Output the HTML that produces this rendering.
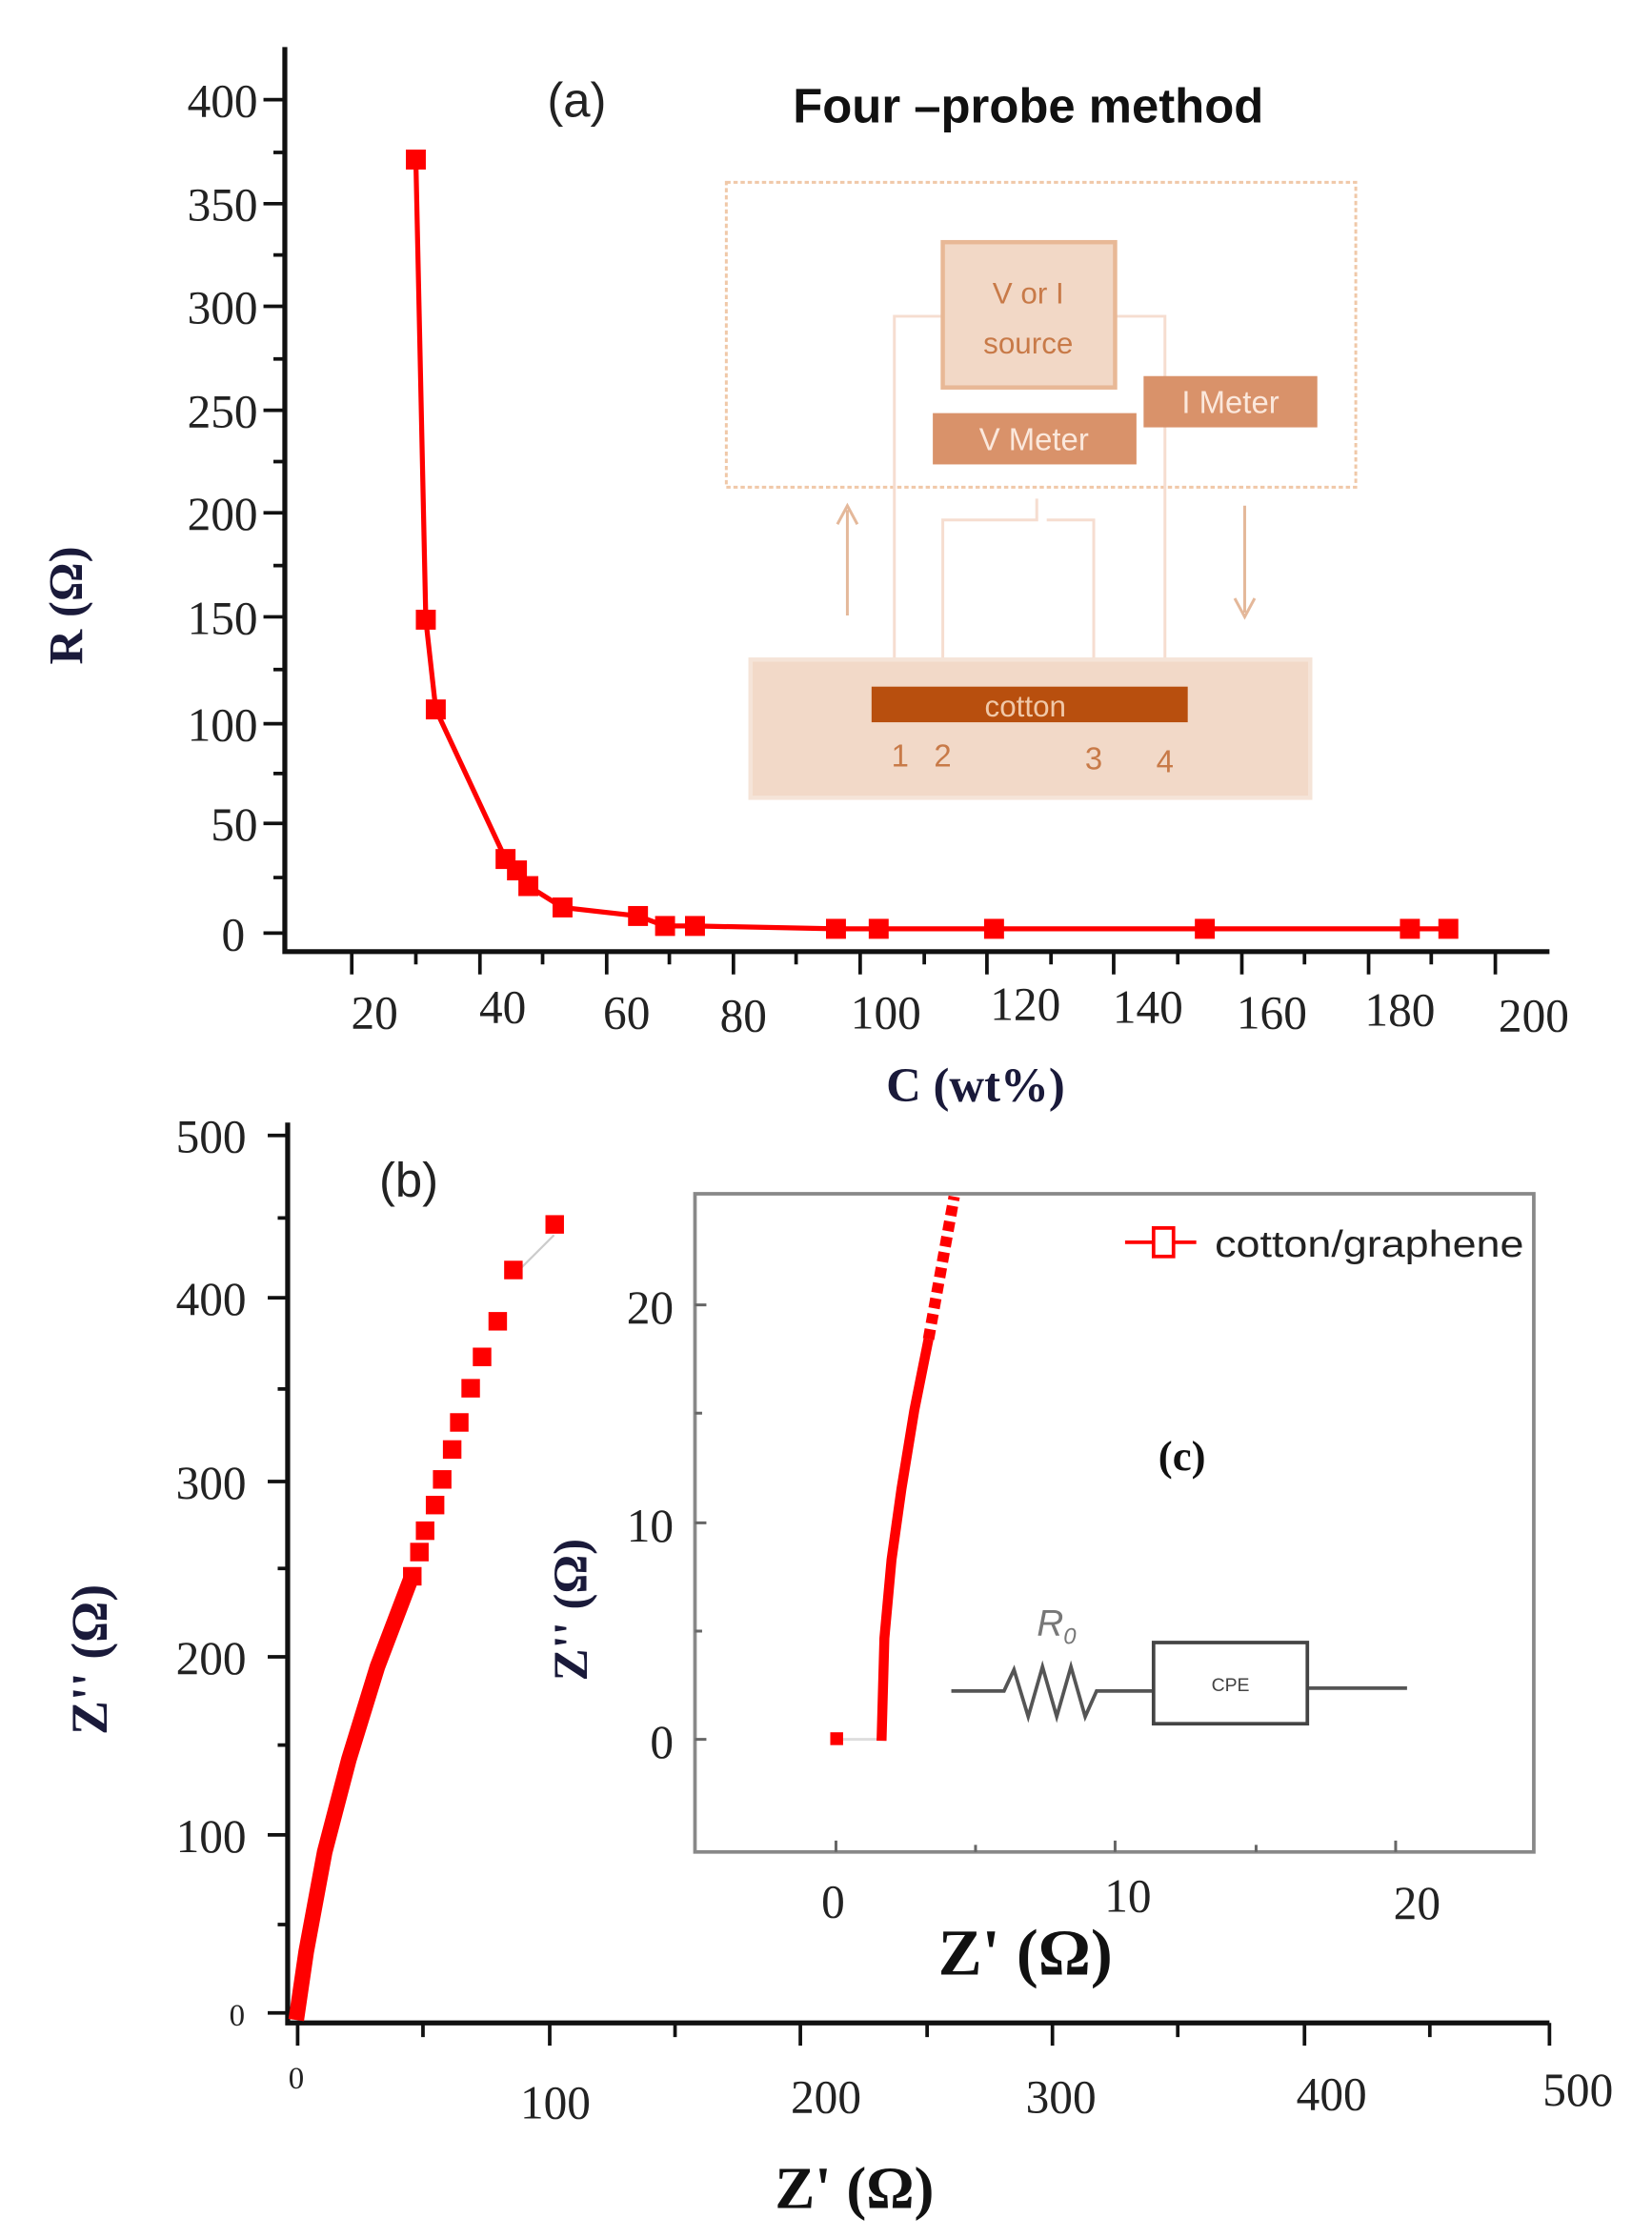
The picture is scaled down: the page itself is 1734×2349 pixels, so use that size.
<!DOCTYPE html>
<html><head><meta charset="utf-8"><style>html,body{margin:0;padding:0;background:#fff}svg{display:block}</style></head>
<body>
<svg width="1734" height="2349" viewBox="0 0 1160 1571" preserveAspectRatio="none" xmlns="http://www.w3.org/2000/svg" font-family="Liberation Sans, sans-serif">
<rect width="1160" height="1571" fill="#fff"/>
<g stroke="#111" stroke-width="3.5" fill="none">
<path d="M200,33 V668 H1088"/>
</g>
<g stroke="#111" stroke-width="2.5">
<path d="M185,70H200M185,143H200M185,215H200M185,288H200M185,360H200M185,433H200M185,508H200M185,578H200M185,655H200"/>
<path d="M192,107H200M192,179H200M192,252H200M192,324H200M192,397H200M192,470H200M192,543H200M192,616H200"/>
<path d="M247,668V684M337,668V684M426,668V684M515,668V684M604,668V684M693,668V684M782,668V684M872,668V684M961,668V684M1050,668V684"/>
<path d="M292,668V677M381,668V677M470,668V677M559,668V677M649,668V677M738,668V677M827,668V677M916,668V677M1005,668V677"/>
</g>
<g font-family="Liberation Serif, serif" font-size="33" fill="#222" text-anchor="end">
<text x="181" y="82">400</text><text x="181" y="155">350</text><text x="181" y="227">300</text><text x="181" y="300">250</text><text x="181" y="372">200</text><text x="181" y="445">150</text><text x="181" y="520">100</text><text x="181" y="590">50</text><text x="172" y="667">0</text>
</g>
<g font-family="Liberation Serif, serif" font-size="33" fill="#222" text-anchor="middle">
<text x="263" y="722">20</text><text x="353" y="718">40</text><text x="440" y="722">60</text><text x="522" y="724">80</text><text x="622" y="722">100</text><text x="720" y="716">120</text><text x="806" y="718">140</text><text x="893" y="722">160</text><text x="983" y="720">180</text><text x="1077" y="724">200</text>
</g>
<text x="685" y="773" font-family="Liberation Serif, serif" font-weight="bold" font-size="34" fill="#1a1a3a" text-anchor="middle">C (wt%)</text>
<text transform="translate(58,425) rotate(-90)" font-family="Liberation Serif, serif" font-weight="bold" font-size="34" fill="#1a1a3a" text-anchor="middle">R (Ω)</text>
<text x="405" y="82" font-size="34" fill="#222" text-anchor="middle">(a)</text>
<text x="722" y="86" font-size="34" font-weight="bold" fill="#111" text-anchor="middle">Four –probe method</text>
<rect x="510" y="128" width="442" height="214" fill="none" stroke="#f0c8a8" stroke-width="2" stroke-dasharray="3,2"/>
<path d="M628,490V222H818V490M662,490V365H728V350M768,490V365H735" fill="none" stroke="#f6ddd0" stroke-width="2"/>
<rect x="662" y="170" width="121" height="102" fill="#f2d8c6" stroke="#e8b896" stroke-width="3"/>
<text x="722" y="213" font-size="21" fill="#c87a48" text-anchor="middle">V or I</text>
<text x="722" y="248" font-size="21" fill="#c87a48" text-anchor="middle">source</text>
<rect x="655" y="290" width="143" height="36" fill="#d9926a"/>
<text x="726" y="316" font-size="22" fill="#fbe8dc" text-anchor="middle">V Meter</text>
<rect x="803" y="264" width="122" height="36" fill="#d9926a"/>
<text x="864" y="290" font-size="22" fill="#fbe8dc" text-anchor="middle">I Meter</text>
<path d="M595,432V358M588,368L595,355L602,368M874,355V430M867,420L874,433L881,420" stroke="#e4b89a" stroke-width="2" fill="none"/>
<rect x="527" y="463" width="393" height="97" fill="#f2d9c8" stroke="#f5e4d8" stroke-width="3"/>
<rect x="612" y="482" width="222" height="25" fill="#b84f0e"/>
<text x="720" y="503" font-size="21" fill="#f0c8a8" text-anchor="middle">cotton</text>
<g font-size="22" fill="#c87a48" text-anchor="middle"><text x="632" y="538">1</text><text x="662" y="538">2</text><text x="768" y="540">3</text><text x="818" y="542">4</text></g>
<polyline points="292,112 299,435 306,498 355,603 363,611 371,622 395,637 448,643 467,650 488,650 587,652 617,652 698,652 846,652 990,652 1017,652" fill="none" stroke="#ff0000" stroke-width="3.5"/>
<g fill="#ff0000">
<rect x="285" y="105" width="14" height="14"/><rect x="292" y="428" width="14" height="14"/><rect x="299" y="491" width="14" height="14"/><rect x="348" y="596" width="14" height="14"/><rect x="356" y="604" width="14" height="14"/><rect x="364" y="615" width="14" height="14"/><rect x="388" y="630" width="14" height="14"/><rect x="441" y="636" width="14" height="14"/><rect x="460" y="643" width="14" height="14"/><rect x="481" y="643" width="14" height="14"/><rect x="580" y="645" width="14" height="14"/><rect x="610" y="645" width="14" height="14"/><rect x="691" y="645" width="14" height="14"/><rect x="839" y="645" width="14" height="14"/><rect x="983" y="645" width="14" height="14"/><rect x="1010" y="645" width="14" height="14"/>
</g>
<path d="M202,788V1420H1088" stroke="#111" stroke-width="3.5" fill="none"/>
<g stroke="#111" stroke-width="2.5">
<path d="M188,797H202M188,911H202M188,1040H202M188,1163H202M188,1288H202M188,1413H202"/>
<path d="M195,855H202M195,975H202M195,1101H202M195,1225H202M195,1351H202"/>
<path d="M209,1420V1436M297,1420V1430M386,1420V1436M474,1420V1430M562,1420V1436M651,1420V1430M739,1420V1436M827,1420V1430M916,1420V1436M1004,1420V1430M1088,1420V1436"/>
</g>
<g font-family="Liberation Serif, serif" font-size="33" fill="#222" text-anchor="end">
<text x="173" y="809">500</text><text x="173" y="923">400</text><text x="173" y="1052">300</text><text x="173" y="1175">200</text><text x="173" y="1300">100</text><text x="172" y="1422" font-size="22">0</text>
</g>
<g font-family="Liberation Serif, serif" font-size="33" fill="#222" text-anchor="middle">
<text x="208" y="1466" font-size="22">0</text><text x="390" y="1487">100</text><text x="580" y="1483">200</text><text x="745" y="1483">300</text><text x="935" y="1481">400</text><text x="1108" y="1478">500</text>
</g>
<text x="600" y="1550" font-family="Liberation Serif, serif" font-weight="bold" font-size="42" fill="#111" text-anchor="middle">Z' (Ω)</text>
<text transform="translate(75,1165) rotate(-90)" font-family="Liberation Serif, serif" font-weight="bold" font-size="36" fill="#1a1a3a" text-anchor="middle">Z'' (Ω)</text>
<text x="287" y="840" font-size="34" fill="#222" text-anchor="middle">(b)</text>
<path d="M208,1418 L215,1370 L228,1300 L245,1235 L265,1170 L289,1107" fill="none" stroke="#ff0000" stroke-width="11"/>
<path d="M360,896 L389,867" stroke="#ccc" stroke-width="1.5"/>
<g fill="#ff0000">
<rect x="283" y="1100" width="13" height="13"/><rect x="288" y="1083" width="13" height="13"/><rect x="292" y="1068" width="13" height="13"/><rect x="299" y="1050" width="13" height="13"/><rect x="304" y="1032" width="13" height="13"/><rect x="311" y="1011" width="13" height="13"/><rect x="316" y="992" width="13" height="13"/><rect x="324" y="968" width="13" height="13"/><rect x="332" y="946" width="13" height="13"/><rect x="343" y="921" width="13" height="13"/><rect x="354" y="885" width="13" height="13"/><rect x="383" y="853" width="13" height="13"/>
</g>
<rect x="488" y="838" width="589" height="462" fill="#fff" stroke="#888" stroke-width="2.5"/>
<g stroke="#666" stroke-width="2">
<path d="M488,916H496M488,1069H496M488,1221H496M488,992H493M488,1145H493"/>
<path d="M587,1300V1292M783,1300V1292M980,1300V1292M685,1300V1295M882,1300V1295"/>
</g>
<g font-family="Liberation Serif, serif" font-size="33" fill="#222">
<text x="473" y="929" text-anchor="end">20</text><text x="473" y="1082" text-anchor="end">10</text><text x="473" y="1234" text-anchor="end">0</text>
<text x="585" y="1346" text-anchor="middle">0</text><text x="792" y="1342" text-anchor="middle">10</text><text x="995" y="1347" text-anchor="middle">20</text>
</g>
<text x="720" y="1386" font-family="Liberation Serif, serif" font-weight="bold" font-size="46" fill="#111" text-anchor="middle">Z' (Ω)</text>
<text transform="translate(412,1130) rotate(-90)" font-family="Liberation Serif, serif" font-weight="bold" font-size="34" fill="#1a1a3a" text-anchor="middle">Z'' (Ω)</text>
<text x="830" y="1032" font-family="Liberation Serif, serif" font-weight="bold" font-size="30" fill="#111" text-anchor="middle">(c)</text>
<path d="M590,1221H619" stroke="#ddd" stroke-width="2"/>
<rect x="583" y="1216" width="9" height="9" fill="#ff0000"/>
<path d="M619,1222 L621,1150 L626,1095 L633,1045 L642,990 L652,940" fill="none" stroke="#ff0000" stroke-width="7"/>
<path d="M652,940 L670,840" fill="none" stroke="#ff0000" stroke-width="8" stroke-dasharray="7,4"/>
<path d="M790,872H840" stroke="#ff0000" stroke-width="2.5"/>
<rect x="810" y="862" width="14" height="20" fill="#fff" stroke="#ff0000" stroke-width="2.5"/>
<text x="853" y="882" font-size="26" fill="#222" textLength="217" lengthAdjust="spacingAndGlyphs">cotton/graphene</text>
<path d="M668,1187H705L712,1172L722,1205L732,1170L742,1205L752,1170L762,1205L770,1187H810M918,1185H988" fill="none" stroke="#555" stroke-width="2.5"/>
<rect x="810" y="1153" width="108" height="57" fill="#fff" stroke="#444" stroke-width="2.5"/>
<text x="864" y="1187" font-size="13" fill="#444" text-anchor="middle">CPE</text>
<text x="728" y="1148" font-size="26" fill="#777" font-style="italic">R<tspan font-size="16" dy="6">0</tspan></text>
</svg>
</body></html>
